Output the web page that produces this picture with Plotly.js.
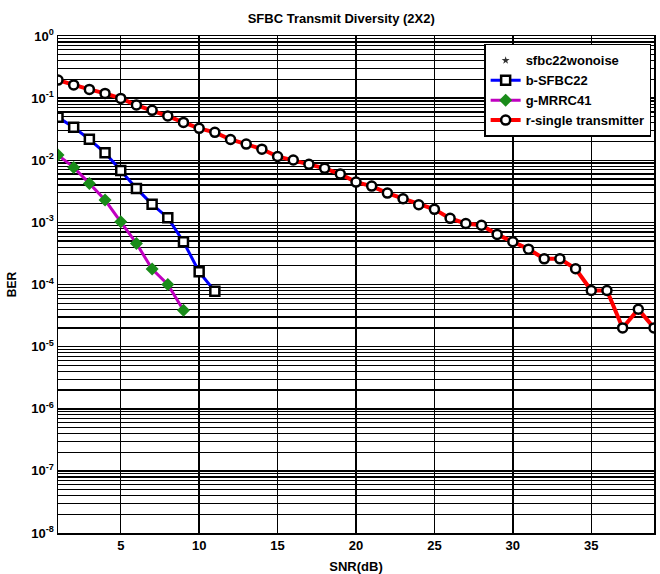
<!DOCTYPE html>
<html>
<head>
<meta charset="utf-8">
<script src="https://cdn.plot.ly/plotly-3.0.1.min.js"></script>
<style>html,body{margin:0;padding:0;background:#fff;}#chart{width:660px;height:574px;}</style>
</head>
<body>
<div id="chart"></div>
<script>
// SNR values (dB)
const snrSingle = [1,2,3,4,5,6,7,8,9,10,11,12,13,14,15,16,17,18,19,20,21,22,23,24,25,26,27,28,29,30,31,32,33,34,35,36,37,38,39];
const berSingle = [0.195,0.163,0.138,0.119,0.099,0.0774,0.0636,0.0515,0.0407,0.0326,0.0281,0.0216,0.0182,0.0151,0.0115,0.0101,0.0086,0.0074,0.0060,0.00445,0.00384,0.00296,0.0024,0.00192,0.00162,0.00116,0.00096,0.0009,0.00064,0.000487,0.000371,0.000259,0.000259,0.000179,0.00008,0.00008,0.00002,0.00004,0.00002];
const snrSFBC = [1,2,3,4,5,6,7,8,9,10,11];
const berSFBC = [0.049,0.0339,0.0217,0.0132,0.00687,0.00352,0.00195,0.00119,0.000487,0.00016,0.000078];
const snrMRRC = [1,2,3,4,5,6,7,8,9];
const berMRRC = [0.0121,0.00767,0.00424,0.00229,0.00102,0.000458,0.000177,0.0001,0.0000386];
// without noise: BER is zero everywhere, so nothing is drawn on the log axis
const snrNoNoise = [1,2,3,4,5,6,7,8,9,10,11];
const berNoNoise = [0,0,0,0,0,0,0,0,0,0,0];
const xTicks = [5,10,15,20,25,30,35];
const yTickVals = [1,0.1,0.01,0.001,0.0001,0.00001,0.000001,0.0000001,0.00000001];
const yTickText = ['10<sup>0</sup>','10<sup>-1</sup>','10<sup>-2</sup>','10<sup>-3</sup>','10<sup>-4</sup>','10<sup>-5</sup>','10<sup>-6</sup>','10<sup>-7</sup>','10<sup>-8</sup>'];

const FONT = 'Liberation Sans, Arial, sans-serif';

const traces = [
  {x: snrNoNoise, y: berNoNoise, name: 'sfbc22wonoise', mode: 'markers',
   marker: {symbol: 'star', size: 6, color: '#333'}},
  {x: snrSFBC, y: berSFBC, name: 'b-SFBC22', mode: 'lines+markers',
   line: {color: '#0000ff', width: 3},
   marker: {symbol: 'square', size: 9, color: '#ffffff', line: {color: '#000', width: 2.5}}},
  {x: snrMRRC, y: berMRRC, name: 'g-MRRC41', mode: 'lines+markers',
   line: {color: '#c000c0', width: 3},
   marker: {symbol: 'diamond', size: 10, color: '#1a8c1a', line: {color: '#1a8c1a', width: 0}}},
  {x: snrSingle, y: berSingle, name: 'r-single transmitter', mode: 'lines+markers',
   line: {color: '#ff0000', width: 4},
   marker: {symbol: 'circle', size: 9, color: '#ffffff', line: {color: '#000', width: 2.5}}}
];

const layout = {
  width: 660, height: 574,
  margin: {l: 58, r: 6, t: 36, b: 41},
  paper_bgcolor: '#ffffff', plot_bgcolor: '#ffffff',
  font: {family: FONT, size: 13, color: '#000', weight: 'bold'},
  title: {text: 'SFBC Transmit Diversity (2X2)', x: 0.517, xanchor: 'center', y: 0.968, yanchor: 'middle',
          font: {family: FONT, size: 13, color: '#000', weight: 'bold'}},
  showlegend: true,
  legend: {x: 0.715, y: 0.984, xanchor: 'left', yanchor: 'top',
           bordercolor: '#000', borderwidth: 1.5, bgcolor: '#fff',
           font: {family: FONT, size: 13, color: '#000', weight: 'bold'},
           tracegroupgap: 0, itemwidth: 30},
  xaxis: {type: 'linear', range: [1, 39], tickvals: xTicks,
          showgrid: true, gridcolor: '#000', gridwidth: 1.5,
          showline: true, linecolor: '#000', linewidth: 1.5, mirror: true,
          zeroline: false, ticks: '', ticklen: 0,
          tickfont: {family: FONT, size: 13, color: '#000', weight: 'bold'},
          title: {text: 'SNR(dB)', standoff: 10, font: {family: FONT, size: 13, color: '#000', weight: 'bold'}}},
  yaxis: {type: 'log', range: [-8, 0], tickvals: yTickVals, ticktext: yTickText,
          showgrid: true, gridcolor: '#000', gridwidth: 1.5,
          minor: {dtick: 'D1', showgrid: true, gridcolor: '#000', gridwidth: 1.2, ticks: ''},
          showline: true, linecolor: '#000', linewidth: 1.5, mirror: true,
          zeroline: false, ticks: '', ticklen: 0,
          tickfont: {family: FONT, size: 13, color: '#000', weight: 'bold'},
          title: {text: 'BER', standoff: 12, font: {family: FONT, size: 12, color: '#000', weight: 'bold'}}}
};

Plotly.newPlot('chart', traces, layout, {displayModeBar: false, staticPlot: true});
</script>
</body>
</html>
